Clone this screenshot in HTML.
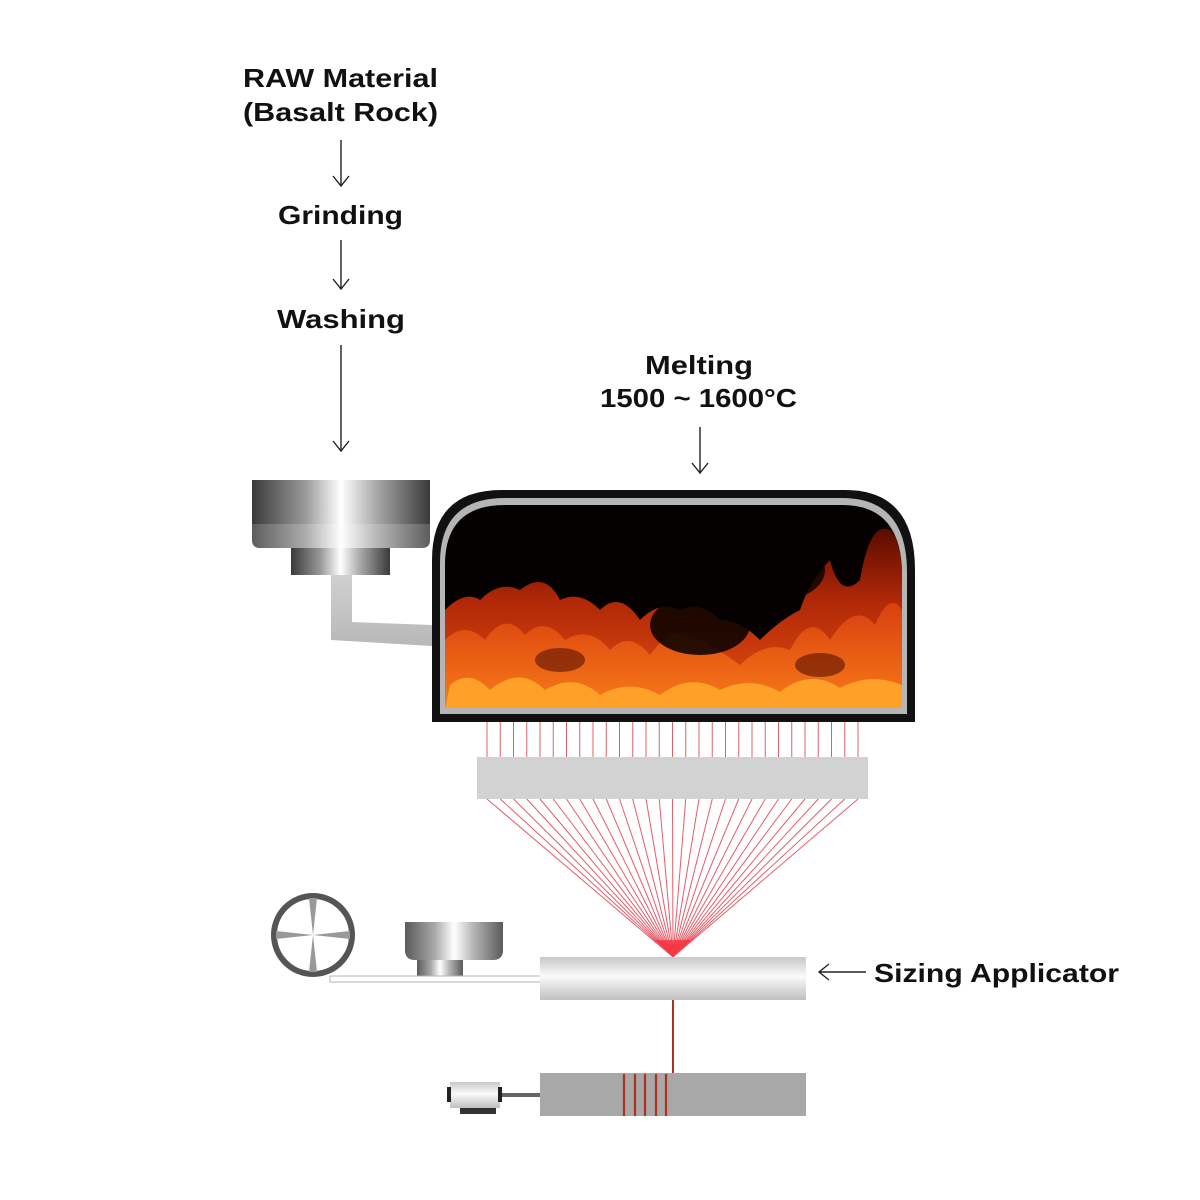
<!DOCTYPE html>
<html><head><meta charset="utf-8"><style>html,body{margin:0;padding:0;background:#fff}svg{display:block}</style></head>
<body>
<svg width="1200" height="1200" viewBox="0 0 1200 1200" xmlns="http://www.w3.org/2000/svg" font-family="Liberation Sans, sans-serif" font-weight="bold" fill="#111">
<defs>
<linearGradient id="metal" x1="0" x2="1" y1="0" y2="0">
<stop offset="0" stop-color="#3a3a3a"/><stop offset="0.3" stop-color="#9a9a9a"/><stop offset="0.5" stop-color="#fff"/><stop offset="0.7" stop-color="#a8a8a8"/><stop offset="1" stop-color="#3a3a3a"/></linearGradient>
<linearGradient id="metal2" x1="0" x2="1" y1="0" y2="0">
<stop offset="0" stop-color="#5a5a5a"/><stop offset="0.3" stop-color="#a8a8a8"/><stop offset="0.5" stop-color="#fff"/><stop offset="0.7" stop-color="#b5b5b5"/><stop offset="1" stop-color="#5a5a5a"/></linearGradient>
<linearGradient id="pipe" x1="0" x2="0" y1="0" y2="1"><stop offset="0" stop-color="#d0d0d0"/><stop offset="1" stop-color="#b8b8b8"/></linearGradient>
<linearGradient id="cyl" x1="0" x2="0" y1="0" y2="1"><stop offset="0" stop-color="#c8c8c8"/><stop offset="0.45" stop-color="#fafafa"/><stop offset="1" stop-color="#c0c0c0"/></linearGradient>
<linearGradient id="flame" x1="0" x2="0" y1="0" y2="1"><stop offset="0" stop-color="#5a0c00"/><stop offset="0.4" stop-color="#b02808"/><stop offset="1" stop-color="#e85010"/></linearGradient>
<linearGradient id="flame2" x1="0" x2="0" y1="0" y2="1"><stop offset="0" stop-color="#d84010"/><stop offset="1" stop-color="#f87a18"/></linearGradient>
<clipPath id="fc"><path d="M445 708 V565 Q445 505 505 505 H842 Q902 505 902 575 V708 Z"/></clipPath>
</defs>

<text x="243" y="87" font-size="26" textLength="195" lengthAdjust="spacingAndGlyphs">RAW Material</text>
<text x="243" y="121" font-size="26" textLength="195" lengthAdjust="spacingAndGlyphs">(Basalt Rock)</text>
<text x="278" y="224" font-size="26" textLength="125" lengthAdjust="spacingAndGlyphs">Grinding</text>
<text x="277" y="328" font-size="26" textLength="128" lengthAdjust="spacingAndGlyphs">Washing</text>
<text x="645" y="374" font-size="26" textLength="108" lengthAdjust="spacingAndGlyphs">Melting</text>
<text x="600" y="407" font-size="26" textLength="197" lengthAdjust="spacingAndGlyphs">1500 ~ 1600°C</text>
<text x="874" y="982" font-size="26" textLength="245" lengthAdjust="spacingAndGlyphs">Sizing Applicator</text>

<g stroke="#222" stroke-width="1.4" fill="none">
<path d="M341 140 V185 M333 176 L341 186 L349 176"/>
<path d="M341 240 V288 M333 279 L341 289 L349 279"/>
<path d="M341 345 V450 M333 441 L341 451 L349 441"/>
<path d="M700 427 V472 M692 463 L700 473 L708 463"/>
<path d="M866 972 H820 M829 964 L819 972 L829 980"/>
</g>

<path d="M252 480 H430 V540 Q430 548 422 548 H260 Q252 548 252 540 Z" fill="url(#metal)"/>
<rect x="252" y="524" width="178" height="24" fill="#fff" opacity="0.18"/>
<rect x="291" y="548" width="99" height="27" fill="url(#metal)"/>
<path d="M331 575 H352 V622 L432 625 V646 L331 640 Z" fill="url(#pipe)"/>

<path d="M432 722 V560 Q432 490 502 490 H845 Q915 490 915 570 V722 Z" fill="#111"/>
<path d="M440 714 V563 Q440 498 505 498 H842 Q907 498 907 572 V714 Z" fill="#b5b5b5"/>
<g clip-path="url(#fc)">
<rect x="440" y="500" width="470" height="210" fill="#050100"/>
<path d="M445 708 L445 610 Q465 590 480 600 Q500 580 520 590 Q545 570 560 600 Q580 590 600 610 Q620 590 640 620 Q660 600 680 610 Q700 600 720 620 Q740 620 760 640 Q780 620 800 610 Q810 580 830 560 Q840 600 860 580 Q870 520 890 530 Q900 540 902 560 L902 708 Z" fill="url(#flame)"/>
<path d="M445 708 L445 640 Q465 620 485 640 Q505 610 525 635 Q545 615 565 640 Q590 625 610 650 Q630 630 650 655 Q675 620 700 640 Q720 650 740 665 Q765 640 790 650 Q810 610 830 640 Q855 600 875 625 Q890 590 902 610 L902 708 Z" fill="url(#flame2)"/>
<path d="M445 708 L450 685 Q470 668 490 690 Q520 665 545 690 Q575 672 600 695 Q630 678 660 695 Q690 672 720 690 Q750 675 780 692 Q810 668 840 688 Q870 672 902 685 L902 708 Z" fill="#ffa028"/>
<ellipse cx="700" cy="625" rx="50" ry="30" fill="#050100" opacity="0.85"/>
<ellipse cx="780" cy="570" rx="45" ry="30" fill="#050100" opacity="0.8"/>
<ellipse cx="560" cy="660" rx="25" ry="12" fill="#5a1000" opacity="0.6"/>
<ellipse cx="820" cy="665" rx="25" ry="12" fill="#5a1000" opacity="0.6"/>
</g>

<g stroke="#e0606a" stroke-width="1">
<path d="M487 722V757M500.25 722V757M513.5 722V757M526.75 722V757M540 722V757M553.25 722V757M566.5 722V757M579.75 722V757M593 722V757M606.25 722V757M619.5 722V757M632.75 722V757M646 722V757M659.25 722V757M672.5 722V757M685.75 722V757M699 722V757M712.25 722V757M725.5 722V757M738.75 722V757M752 722V757M765.25 722V757M778.5 722V757M791.75 722V757M805 722V757M818.25 722V757M831.5 722V757M844.75 722V757M858 722V757"/>
</g>
<rect x="477" y="757" width="391" height="42" fill="#d2d2d2"/>

<g stroke="#e04050" stroke-width="1" stroke-opacity="0.85">
<path d="M487 799L673 957M500.25 799L673 957M513.5 799L673 957M526.75 799L673 957M540 799L673 957M553.25 799L673 957M566.5 799L673 957M579.75 799L673 957M593 799L673 957M606.25 799L673 957M619.5 799L673 957M632.75 799L673 957M646 799L673 957M659.25 799L673 957M672.5 799L673 957M685.75 799L673 957M699 799L673 957M712.25 799L673 957M725.5 799L673 957M738.75 799L673 957M752 799L673 957M765.25 799L673 957M778.5 799L673 957M791.75 799L673 957M805 799L673 957M818.25 799L673 957M831.5 799L673 957M844.75 799L673 957M858 799L673 957"/>
</g>
<path d="M655 940 L673 957 L691 940 Z" fill="#ff1f2f" opacity="0.6"/>

<circle cx="313" cy="935" r="39" fill="#fff" stroke="#555" stroke-width="6"/>
<path d="M313 935 L309 898 H317 Z M313 935 L309 972 H317 Z M313 935 L276 931 V939 Z M313 935 L350 931 V939 Z" fill="#999"/>
<path d="M405 922 H503 V950 Q503 960 493 960 H415 Q405 960 405 950 Z" fill="url(#metal2)"/>
<rect x="417" y="960" width="46" height="18" fill="url(#metal2)"/>
<rect x="330" y="976" width="212" height="6" fill="#fff" stroke="#b5b5b5" stroke-width="1"/>
<rect x="540" y="957" width="266" height="43" fill="url(#cyl)"/>
<line x1="673" y1="1000" x2="673" y2="1074" stroke="#b03020" stroke-width="2"/>
<rect x="540" y="1073" width="266" height="43" fill="#a8a8a8"/>
<g stroke="#b03020" stroke-width="2.2">
<path d="M624 1074V1116M635 1074V1116M645 1074V1116M656 1074V1116M666 1074V1116"/>
</g>
<rect x="501" y="1093" width="39" height="4" fill="#666"/>
<rect x="450" y="1082" width="50" height="26" fill="url(#cyl)"/>
<rect x="447" y="1087" width="4" height="15" fill="#222"/>
<rect x="498" y="1087" width="4" height="15" fill="#222"/>
<rect x="460" y="1108" width="36" height="6" fill="#333"/>
</svg>
</body></html>
